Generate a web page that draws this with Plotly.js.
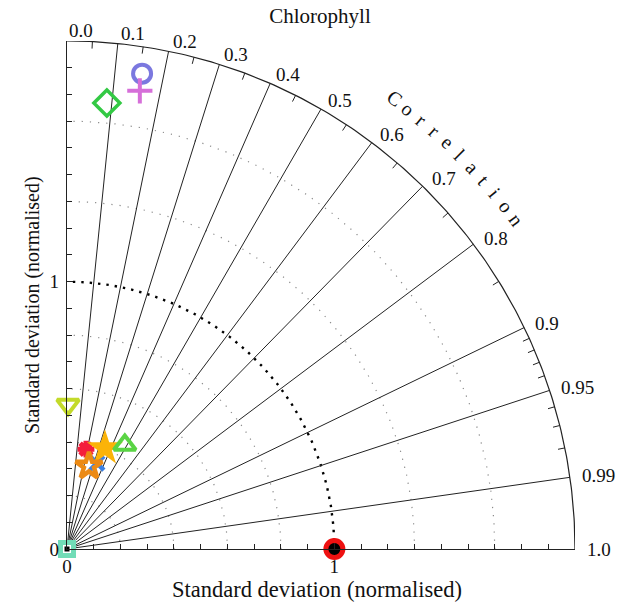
<!DOCTYPE html>
<html>
<head>
<meta charset="utf-8">
<script src="https://cdn.plot.ly/plotly-3.0.1.min.js"></script>
<style>
  html, body { margin: 0; padding: 0; background: #ffffff; }
  #chart { width: 636px; height: 604px; }
</style>
</head>
<body>
<div id="chart"></div>
<script>
// Taylor diagram for chlorophyll: normalised standard deviation vs correlation.

// ---- data ----
const modelNames = ['Reference', 'Model A', 'Model B', 'Model C', 'Model D', 'Model E',
                    'Model F', 'Model G', 'Model H', 'Model I', 'Model J'];
const stdNorm    = [1.00, 0.00, 1.800, 1.735, 1.675, 0.540, 0.380, 0.403, 0.445, 0.340, 0.321];
const corrCoef   = [1.00, 0.00, 0.156, 0.157, 0.089, 0.007, 0.187, 0.352, 0.486, 0.329, 0.256];

// correlation grid (radial lines), labels and minor ticks on the outer arc
const corrLines     = [0.1, 0.2, 0.3, 0.4, 0.5, 0.6, 0.7, 0.8, 0.9, 0.95, 0.99];
const corrTickVals  = [0.0, 0.1, 0.2, 0.3, 0.4, 0.5, 0.6, 0.7, 0.8, 0.9, 0.95, 0.99, 1.0];
const corrTickText  = ['0.0', '0.1', '0.2', '0.3', '0.4', '0.5', '0.6', '0.7', '0.8', '0.9', '0.95', '0.99', '1.0'];
const corrMinor     = [0.05, 0.15, 0.25, 0.35, 0.45, 0.55, 0.65, 0.75, 0.85,
                       0.91, 0.92, 0.93, 0.94, 0.96, 0.97, 0.98];

// standard-deviation arcs
const stdArcs   = [0.2, 0.4, 0.6, 0.8, 1.3, 1.6];
const stdRefArc = 1.0;
const stdMax    = 1.9;

// axis tick labels
const stdTickVals = [0, 1];
const stdTickText = ['0', '1'];

const arcTitle = 'Correlation';

// ---- marker styles (one per model, same order as the data) ----
const markerStyle = [
  { symbol: 'circle',          color: '#000000', size: 17, line: { color: '#ee1111', width: 5 } },
  { symbol: 'square',          color: '#ffffff', size: 13, line: { color: '#72dcb7', width: 5 } },
  { symbol: 'circle-open',     color: '#7b78df', size: 18, line: { color: '#7b78df', width: 4 } },
  { symbol: 'cross-thin-open', color: '#d66fd9', size: 18, line: { color: '#d66fd9', width: 4 } },
  { symbol: 'diamond-open',    color: '#33c944', size: 20, line: { color: '#33c944', width: 3.5 } },
  { symbol: 'triangle-down-open', color: '#c3da2a', size: 19, line: { color: '#c3da2a', width: 4 } },
  { symbol: 'asterisk-open',   color: '#f41d3c', size: 14, line: { color: '#f41d3c', width: 5 } },
  { symbol: 'star',            color: '#fbb308', size: 27, line: { color: '#fbb308', width: 0 } },
  { symbol: 'triangle-up-open',color: '#5ad444', size: 19, line: { color: '#5ad444', width: 4 } },
  { symbol: 'x-thin-open',     color: '#3b80e2', size: 14, line: { color: '#3b80e2', width: 4.5 } },
  { symbol: 'star-open',       color: '#ec8a14', size: 20, line: { color: '#ec8a14', width: 4.5 } }
];
// drawing order (last on top)
const drawOrder = [1, 2, 3, 4, 5, 9, 6, 7, 8, 10, 0];

const FONT = 'Liberation Serif, Times New Roman, serif';
const INK = '#111111';

function toXY(r, c) {
  return [r * c, r * Math.sqrt(Math.max(0, 1 - c * c))];
}
function arcPath(r) {
  const xs = [], ys = [];
  for (let i = 0; i <= 180; i++) {
    const a = (i / 180) * Math.PI / 2;
    xs.push(r * Math.cos(a)); ys.push(r * Math.sin(a));
  }
  return { xs, ys };
}
// position as a fraction of the (square, zero-based) plot area, so it can sit beyond the axis range
function toPaper(v) { return v / stdMax; }

const traces = [];

// fine dotted std arcs
stdArcs.forEach(r => {
  const p = arcPath(r);
  traces.push({ x: p.xs, y: p.ys, mode: 'lines', hoverinfo: 'skip', cliponaxis: false,
    line: { color: '#8a8a8a', width: 1.2, dash: '1.2px,7px' } });
});
// bold dotted reference arc
{
  const p = arcPath(stdRefArc);
  traces.push({ x: p.xs, y: p.ys, mode: 'lines', hoverinfo: 'skip', cliponaxis: false,
    line: { color: '#000000', width: 2.4, dash: '2.4px,6px' } });
}
// correlation lines
{
  const xs = [], ys = [];
  corrLines.forEach(c => {
    const e = toXY(stdMax, c);
    xs.push(0, e[0], null); ys.push(0, e[1], null);
  });
  traces.push({ x: xs, y: ys, mode: 'lines', hoverinfo: 'skip', cliponaxis: false,
    line: { color: '#222222', width: 1 } });
}
// outer arc
{
  const p = arcPath(stdMax);
  traces.push({ x: p.xs, y: p.ys, mode: 'lines', hoverinfo: 'skip', cliponaxis: false,
    line: { color: '#222222', width: 1.2 } });
}
// minor ticks on the outer arc
{
  const xs = [], ys = [];
  corrMinor.forEach(c => {
    const a = toXY(stdMax, c), b = toXY(stdMax - 0.026, c);
    xs.push(a[0], b[0], null); ys.push(a[1], b[1], null);
  });
  traces.push({ x: xs, y: ys, mode: 'lines', hoverinfo: 'skip', cliponaxis: false,
    line: { color: '#222222', width: 1 } });
}

// model markers
drawOrder.forEach(i => {
  const p = toXY(stdNorm[i], corrCoef[i]);
  const s = markerStyle[i];
  traces.push({ x: [p[0]], y: [p[1]], mode: 'markers', name: modelNames[i], cliponaxis: false,
    marker: { symbol: s.symbol, color: s.color, size: s.size, line: s.line } });
  if (i === 1) {
    traces.push({ x: [p[0]], y: [p[1]], mode: 'markers', hoverinfo: 'skip', cliponaxis: false,
      marker: { symbol: 'square', color: '#000000', size: 5 } });
  }
});

// correlation labels beyond the arc
const annotations = corrTickVals.map((c, k) => {
  const p = toXY(stdMax * 1.02, c);
  return { x: toPaper(p[0]), y: toPaper(p[1]), xref: 'paper', yref: 'paper',
    text: corrTickText[k], showarrow: false,
    xanchor: 'left', yanchor: 'middle', font: { family: FONT, size: 19, color: INK } };
});

// curved "Correlation" caption, one letter at a time
{
  const letters = arcTitle.split('');
  const a0 = 54.0, a1 = 36.2, rr = 2.083;
  letters.forEach((ch, k) => {
    const a = (a0 + (a1 - a0) * k / (letters.length - 1)) * Math.PI / 180;
    annotations.push({ x: toPaper(rr * Math.cos(a)), y: toPaper(rr * Math.sin(a)),
      xref: 'paper', yref: 'paper',
      text: ch, showarrow: false, xanchor: 'center', yanchor: 'middle',
      textangle: 90 - a * 180 / Math.PI,
      font: { family: FONT, size: 20, color: INK } });
  });
}

// axis titles
annotations.push({ xref: 'paper', yref: 'paper', x: 0.492, y: -0.08, showarrow: false,
  text: 'Standard deviation (normalised)', xanchor: 'center', yanchor: 'middle',
  font: { family: FONT, size: 22.5, color: INK } });
annotations.push({ xref: 'paper', yref: 'paper', x: -0.069, y: 0.48, showarrow: false,
  text: 'Standard deviation (normalised)', textangle: -90, xanchor: 'center', yanchor: 'middle',
  font: { family: FONT, size: 20, color: INK } });

const axisCommon = {
  range: [0, stdMax], showgrid: false, zeroline: false, showline: true,
  linecolor: '#222222', linewidth: 1.2, ticks: 'inside', ticklen: 6, tickcolor: '#222222',
  tickmode: 'array', tickvals: stdTickVals, ticktext: stdTickText,
  tickfont: { family: FONT, size: 19, color: INK },
  minor: { tick0: 0, dtick: 0.1, ticks: 'inside', ticklen: 5, tickcolor: '#222222' },
  fixedrange: true
};

const layout = {
  width: 636, height: 604,
  margin: { l: 67, r: 61, t: 41, b: 55 },
  paper_bgcolor: '#ffffff', plot_bgcolor: '#ffffff',
  showlegend: false,
  title: { text: 'Chlorophyll', x: 320 / 636, xanchor: 'center', y: 1 - 16 / 604, yanchor: 'middle',
           font: { family: FONT, size: 21, color: INK } },
  xaxis: Object.assign({}, axisCommon, { ticklabelstandoff: 0 }),
  yaxis: Object.assign({}, axisCommon, { scaleanchor: 'x', scaleratio: 1, ticklabelstandoff: 3 }),
  annotations: annotations
};

Plotly.newPlot('chart', traces, layout, { staticPlot: true, displayModeBar: false });
</script>
</body>
</html>
